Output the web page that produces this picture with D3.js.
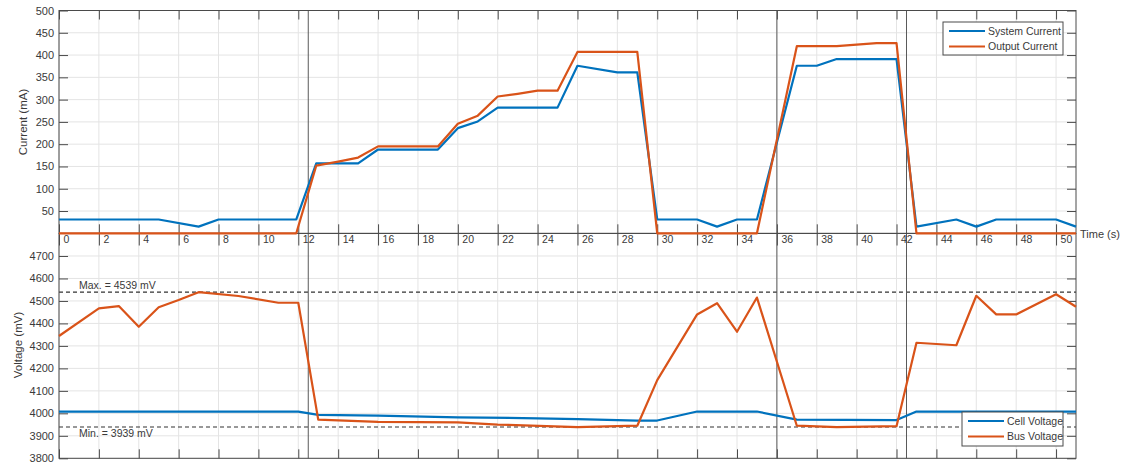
<!DOCTYPE html>
<html>
<head>
<meta charset="utf-8">
<script src="https://cdn.jsdelivr.net/npm/d3@7"></script>
<style>
  html, body { margin: 0; padding: 0; background: #ffffff; }
  svg { display: block; font-family: "Liberation Sans", Arial, sans-serif; }
</style>
</head>
<body>
<svg id="chart" width="1126" height="464"></svg>
<script>
// ---------------- data ----------------
const xTicks = [0,2,4,6,8,10,12,14,16,18,20,22,24,26,28,30,32,34,36,38,40,42,44,46,48,50];
const currentTicks = [50,100,150,200,250,300,350,400,450,500];
const voltageTicks = [3800,3900,4000,4100,4200,4300,4400,4500,4600,4700];

const sysTime    = [0, 5, 7, 8, 11.9, 12.9, 15, 16, 19, 20, 21, 22, 25, 26, 28, 29, 30, 32, 33, 34, 35, 37, 38, 39, 42, 43, 45, 46, 47, 50, 51];
const sysCurrent = [31, 31, 15, 31, 31, 157, 157, 188, 188, 236, 251, 282, 282, 376, 361, 361, 31, 31, 15, 31, 31, 376, 376, 391, 391, 15, 31, 15, 31, 31, 15];

const outTime    = [0, 11.9, 12.9, 14, 15, 16, 19, 20, 21, 22, 23, 24, 25, 26, 29, 30, 35, 37, 39, 41, 42, 43, 51];
const outCurrent = [0, 0, 152, 161, 170, 195, 195, 246, 264, 307, 313, 320, 320, 407, 407, 0, 0, 420, 420, 427, 427, 0, 0];

const cellTime    = [0, 12, 13, 16, 20, 24, 26, 29, 30, 32, 35, 37, 42, 43, 51];
const cellVoltage = [4008, 4008, 3993, 3990, 3982, 3978, 3974, 3968, 3968, 4008, 4008, 3972, 3970, 4008, 4008];

const busTime    = [0, 2, 3, 4, 5, 6, 7, 9, 11, 12, 13, 16, 20, 22, 26, 29, 30, 32, 33, 34, 35, 37, 39, 42, 43, 45, 46, 47, 48, 50, 51];
const busVoltage = [4344, 4467, 4477, 4385, 4472, 4504, 4539, 4522, 4492, 4492, 3972, 3962, 3960, 3950, 3939, 3945, 4148, 4440, 4490, 4363, 4515, 3945, 3939, 3943, 4314, 4303, 4523, 4440, 4440, 4530, 4474];

const markerTimes = [12.5, 36, 42.5];
const maxVoltage = 4539;
const minVoltage = 3939;

const currentLegend = ["System Current", "Output Current"];
const voltageLegend = ["Cell Voltage", "Bus Voltage"];

// ---------------- layout ----------------
const BLUE = "#0072BD", ORANGE = "#D95319";
const AXIS = "#4a4a4a", GRID = "#e4e4e4", TXT = "#3a3a3a";
const svg = d3.select("#chart");

const x = d3.scaleLinear().domain([0, 51]).range([59, 1076]);
const yTop = d3.scaleLinear().domain([0, 500]).range([233.3, 10.5]);
const yBot = d3.scaleLinear().domain([3800, 4800]).range([458.3, 233.5]);

function panel(y, ticks) {
  const g = svg.append("g");
  const [y0, y1] = y.range();
  g.selectAll(".gx").data(xTicks).join("line")
    .attr("x1", d => x(d)).attr("x2", d => x(d))
    .attr("y1", y1).attr("y2", y0)
    .attr("stroke", GRID).attr("stroke-width", 1);
  g.selectAll(".gy").data(ticks).join("line")
    .attr("x1", x.range()[0]).attr("x2", x.range()[1])
    .attr("y1", d => y(d)).attr("y2", d => y(d))
    .attr("stroke", GRID).attr("stroke-width", 1);
  return g;
}

panel(yTop, currentTicks);
panel(yBot, voltageTicks);

// dashed max/min lines
[maxVoltage, minVoltage].forEach(v => {
  svg.append("line")
    .attr("x1", x.range()[0]).attr("x2", x.range()[1])
    .attr("y1", yBot(v)).attr("y2", yBot(v))
    .attr("stroke", "#333").attr("stroke-width", 1.1)
    .attr("stroke-dasharray", "4,3");
});

// vertical marker lines
svg.selectAll(".marker").data(markerTimes).join("line")
  .attr("x1", d => x(d)).attr("x2", d => x(d))
  .attr("y1", yTop.range()[1]).attr("y2", yBot.range()[0])
  .attr("stroke", "#5a5a5a").attr("stroke-width", 1);

function styleAxis(sel) {
  sel.select(".domain").remove();
  sel.selectAll(".tick line").attr("stroke", AXIS);
  sel.selectAll(".tick text").attr("fill", TXT).style("font-family", "Liberation Sans, Arial, sans-serif");
}

const fmt = d3.format("d");

// top panel axes
svg.append("g").attr("transform", `translate(${x.range()[0]},0)`)
  .call(d3.axisLeft(yTop).tickValues(currentTicks).tickSize(-9).tickPadding(5).tickFormat(fmt))
  .call(styleAxis).selectAll("text").style("font-size", "11px");
svg.append("g").attr("transform", `translate(${x.range()[1]},0)`)
  .call(d3.axisRight(yTop).tickValues(currentTicks).tickSize(-9).tickFormat(""))
  .call(styleAxis);
svg.append("g").attr("transform", `translate(0,${yTop.range()[1]})`)
  .call(d3.axisBottom(x).tickValues(xTicks).tickSize(9).tickFormat(""))
  .call(styleAxis);
svg.append("g").attr("transform", `translate(0,${yTop.range()[0]})`)
  .call(d3.axisTop(x).tickValues(xTicks).tickSize(9).tickFormat(""))
  .call(styleAxis);

// bottom panel axes
svg.append("g").attr("transform", `translate(${x.range()[0]},0)`)
  .call(d3.axisLeft(yBot).tickValues(voltageTicks).tickSize(-9).tickPadding(5).tickFormat(fmt))
  .call(styleAxis).selectAll("text").style("font-size", "11px");
svg.append("g").attr("transform", `translate(${x.range()[1]},0)`)
  .call(d3.axisRight(yBot).tickValues(voltageTicks).tickSize(-9).tickFormat(""))
  .call(styleAxis);
const xAx = svg.append("g").attr("transform", `translate(0,${yBot.range()[1]})`)
  .call(d3.axisBottom(x).tickValues(xTicks).tickSize(12).tickFormat(fmt))
  .call(styleAxis);
xAx.selectAll(".tick text")
  .attr("text-anchor", "start").attr("x", 4).attr("y", 2).attr("dy", "0.71em")
  .style("font-size", "10.5px");
svg.append("g").attr("transform", `translate(0,${yBot.range()[0]})`)
  .call(d3.axisTop(x).tickValues(xTicks).tickSize(9).tickFormat(""))
  .call(styleAxis);

// boxes
[yTop, yBot].forEach(y => {
  svg.append("rect")
    .attr("x", x.range()[0]).attr("y", y.range()[1])
    .attr("width", x.range()[1] - x.range()[0])
    .attr("height", y.range()[0] - y.range()[1])
    .attr("fill", "none").attr("stroke", AXIS).attr("stroke-width", 1);
});

// data lines
function drawLine(ts, vs, y, color) {
  const pts = ts.map((t, i) => [t, vs[i]]);
  svg.append("path").datum(pts)
    .attr("d", d3.line().x(d => x(d[0])).y(d => y(d[1])))
    .attr("fill", "none").attr("stroke", color).attr("stroke-width", 2.2)
    .attr("stroke-linejoin", "round");
}
drawLine(sysTime, sysCurrent, yTop, BLUE);
drawLine(outTime, outCurrent, yTop, ORANGE);
drawLine(cellTime, cellVoltage, yBot, BLUE);
drawLine(busTime, busVoltage, yBot, ORANGE);

// annotations
svg.append("text").attr("x", 79).attr("y", 289).attr("fill", TXT)
  .style("font-size", "10.5px").text(`Max. = ${maxVoltage} mV`);
svg.append("text").attr("x", 79).attr("y", 437).attr("fill", TXT)
  .style("font-size", "10.5px").text(`Min. = ${minVoltage} mV`);

// axis labels
svg.append("text").attr("transform", "translate(27,122) rotate(-90)")
  .attr("text-anchor", "middle").attr("fill", TXT).style("font-size", "11.5px")
  .text("Current (mA)");
svg.append("text").attr("transform", "translate(22,345) rotate(-90)")
  .attr("text-anchor", "middle").attr("fill", TXT).style("font-size", "11.5px")
  .text("Voltage (mV)");
svg.append("text").attr("x", 1080).attr("y", 238).attr("fill", TXT)
  .style("font-size", "11px").text("Time (s)");

// legends
function legend(x0, y0, w, h, names) {
  const g = svg.append("g");
  g.append("rect").attr("x", x0).attr("y", y0).attr("width", w).attr("height", h)
    .attr("fill", "#fff").attr("stroke", AXIS).attr("stroke-width", 1);
  names.forEach((n, i) => {
    const yy = y0 + 9 + i * 15.5;
    g.append("line").attr("x1", x0 + 6).attr("x2", x0 + 42)
      .attr("y1", yy).attr("y2", yy)
      .attr("stroke", i === 0 ? BLUE : ORANGE).attr("stroke-width", 2.2);
    g.append("text").attr("x", x0 + 45).attr("y", yy + 3.8)
      .attr("fill", TXT).style("font-size", "10.5px").text(n);
  });
}
legend(943, 22, 120, 33, currentLegend);
legend(962, 412, 101, 34, voltageLegend);
</script>
</body>
</html>
